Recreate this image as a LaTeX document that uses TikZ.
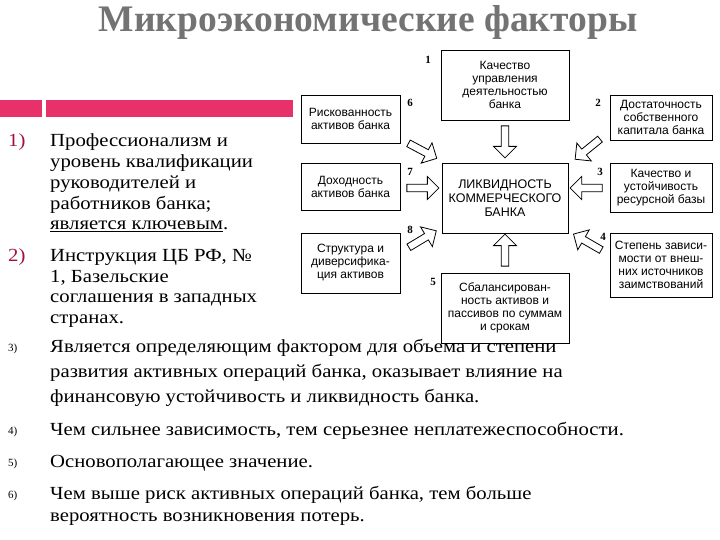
\documentclass[tikz,border=0pt]{standalone}
\usepackage{fontspec}
\setmainfont{Liberation Serif}
\newfontfamily\dsans{Liberation Sans}
\newfontfamily\wserif[FakeStretch=1.12]{Liberation Serif}
\usetikzlibrary{shapes.arrows}
\definecolor{pinkbar}{HTML}{E8306A}
\definecolor{numpink}{HTML}{A01048}
\begin{document}
\begin{tikzpicture}[x=1pt,y=-1pt,
  fbox/.style={draw,line width=0.8pt,align=center,font=\dsans\fontsize{12}{13}\selectfont,inner sep=1pt},
  barr/.style={single arrow,draw,line width=0.8pt,minimum height=32,minimum width=23,single arrow head extend=4,inner sep=1.5pt},
  num/.style={font=\bfseries\fontsize{11}{12}\selectfont},
  txt/.style={anchor=west,font=\wserif\fontsize{18.5}{20}\selectfont,inner sep=0pt},
  big/.style={anchor=west,font=\wserif\fontsize{18.5}{20}\selectfont,text=numpink,inner sep=0pt},
  sm/.style={anchor=west,font=\fontsize{11}{12}\selectfont,inner sep=0pt}]
\useasboundingbox (0,0) rectangle (720,540);
\node[font=\bfseries\fontsize{37.5}{40}\selectfont,text=black!55] (title) at (368,22) {Микроэкономические факторы};
\fill[pinkbar] (0,100) rectangle (42,117);
\fill[pinkbar] (46,100) rectangle (293,117);
% boxes
\node[fbox,minimum width=128,minimum height=70] (b1) at (505,85) {Качество\\управления\\деятельностью\\банка};
\node[fbox,minimum width=99,minimum height=48] (b6) at (350.5,119) {Рискованность\\активов банка};
\node[fbox,minimum width=102,minimum height=45] (b2) at (661,117.5) {Достаточность\\собственного\\капитала банка};
\node[fbox,minimum width=126,minimum height=70,font=\dsans\fontsize{12.5}{14}\selectfont] (c) at (505,198) {ЛИКВИДНОСТЬ\\КОММЕРЧЕСКОГО\\БАНКА};
\node[fbox,minimum width=99,minimum height=47] (b7) at (350.5,186.5) {Доходность\\активов банка};
\node[fbox,minimum width=102,minimum height=49] (b3) at (661,187.5) {Качество и\\устойчивость\\ресурсной базы};
\node[fbox,minimum width=99,minimum height=60] (b8) at (350.5,263) {Структура и\\диверсифика-\\ция активов};
\node[fbox,minimum width=102,minimum height=64] (b4) at (661,265) {Степень зависи-\\мости от внеш-\\них источников\\заимствований};
\node[fbox,minimum width=128,minimum height=70] (b5) at (505,308) {Сбалансирован-\\ность активов и\\пассивов по суммам\\и срокам};
% numbers
\node[num] (n1) at (428,60) {1};
\node[num] (n6) at (410,103) {6};
\node[num] (n2) at (598,103) {2};
\node[num] (n7) at (410,172) {7};
\node[num] (n3) at (600,172) {3};
\node[num] (n8) at (410,230) {8};
\node[num] (n4) at (603,237) {4};
\node[num] (n5) at (433,282) {5};
% arrows
\node[barr,rotate=-90] (a1) at (505,140) {};
\node[barr,rotate=90] (a5) at (505,252) {};
\node[barr] (a7) at (421,188) {};
\node[barr,rotate=180] (a3) at (588,188) {};
\node[barr,rotate=-28] (a6) at (421,150) {};
\node[barr,rotate=-141] (a2) at (589,148) {};
\node[barr,rotate=31] (a8) at (421,240) {};
\node[barr,rotate=150] (a4) at (589,243) {};
% left text
\node[big] (i1) at (8,142) {1)};
\node[txt] at (50,142) {Профессионализм и};
\node[txt] at (50,163) {уровень квалификации};
\node[txt] at (50,184) {руководителей и};
\node[txt] at (50,205) {работников банка;};
\node[txt] at (50,226) {\underline{является ключевым}.};
\node[big] (i2) at (8,257) {2)};
\node[txt] at (50,257) {Инструкция ЦБ РФ, №};
\node[txt] at (50,278) {1, Базельские};
\node[txt] at (50,300) {соглашения в западных};
\node[txt] at (50,321) {странах.};
\node[sm] (i3) at (8,349) {3)};
\node[txt] at (50,348) {Является определяющим фактором для объема и степени};
\node[txt] at (50,373) {развития активных операций банка, оказывает влияние на};
\node[txt] at (50,398) {финансовую устойчивость и ликвидность банка.};
\node[sm] (i4) at (8,432) {4)};
\node[txt] at (50,431) {Чем сильнее зависимость, тем серьезнее неплатежеспособности.};
\node[sm] (i5) at (8,464) {5)};
\node[txt] at (50,463) {Основополагающее значение.};
\node[sm] (i6) at (8,496) {6)};
\node[txt] at (50,495) {Чем выше риск активных операций банка, тем больше};
\node[txt] at (50,519) {вероятность возникновения потерь.};
\end{tikzpicture}
\end{document}
